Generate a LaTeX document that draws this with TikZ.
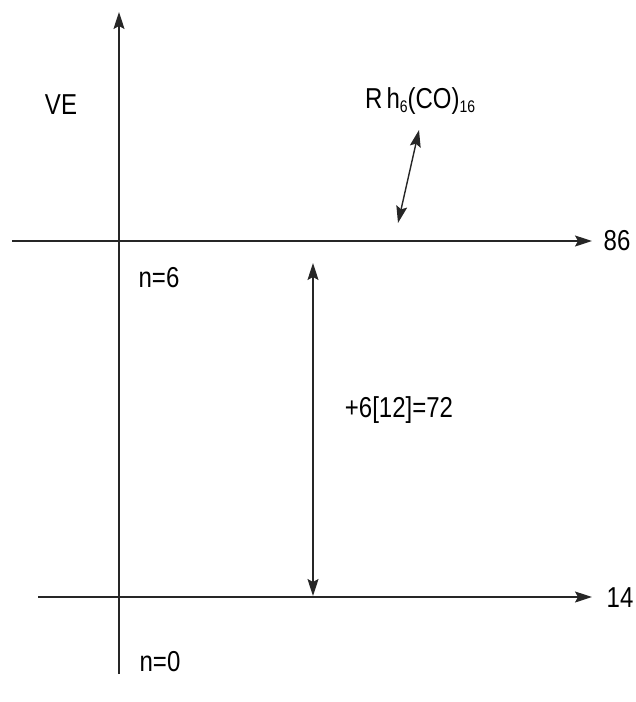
\documentclass[tikz,border=0pt]{standalone}
\usepackage{fontspec}
\setmainfont{Liberation Sans}
\usetikzlibrary{arrows.meta}
\newcommand{\tl}[1]{\scalebox{1}[1.2]{#1}}
\begin{document}
\begin{tikzpicture}[x=1pt,y=-1pt,
  axis/.style={line width=1.4pt,draw=black!85,-{Stealth[length=17pt,width=11pt,inset=3pt]}},
  dbl/.style={line width=1.4pt,draw=black!85,{Stealth[length=17pt,width=11pt,inset=3pt]}-{Stealth[length=17pt,width=11pt,inset=3pt]}},
  lbl/.style={inner sep=0pt,font=\fontsize{24}{27}\selectfont}]
\useasboundingbox (0,0) rectangle (636,702);
\coordinate (vb) at (119,674);
\coordinate (vt) at (119,12);
\coordinate (ul) at (12,241);
\coordinate (ur) at (592,241);
\coordinate (ll) at (38,597);
\coordinate (lr) at (592,597);
\coordinate (da) at (313,263);
\coordinate (db) at (313,596);
\coordinate (ra) at (398,223);
\coordinate (rb) at (419,130);
\draw[axis] (vb) -- (vt);
\draw[axis] (ul) -- (ur);
\draw[axis] (ll) -- (lr);
\draw[dbl] (da) -- (db);
\draw[dbl] (ra) -- (rb);
\node[lbl] (ve) at (61,105) {\tl{VE}};
\node[lbl] (n6) at (159,278) {\tl{n=6}};
\node[lbl] (n0) at (160,662) {\tl{n=0}};
\node[lbl] (l86) at (617,241) {\tl{86}};
\node[lbl] (l14) at (620,598) {\tl{14}};
\node[lbl] (lab) at (399,410) {\tl{+6[12]=72}};
\node[lbl,anchor=west] (rh) at (365,101) {\tl{R\,h\raisebox{-3pt}{\fontsize{14}{16}\selectfont 6}(CO)\raisebox{-3pt}{\fontsize{14}{16}\selectfont 16}}};
\end{tikzpicture}
\end{document}
